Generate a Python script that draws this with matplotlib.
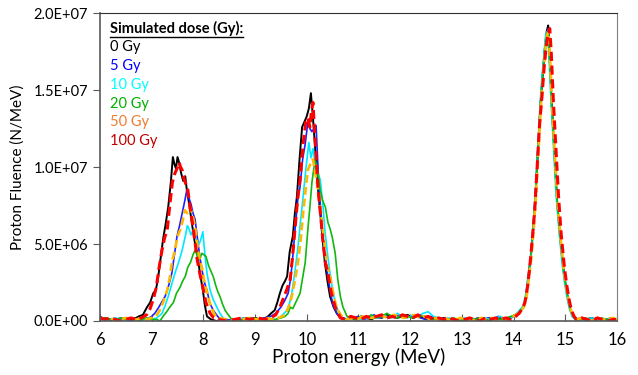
import matplotlib
matplotlib.use("Agg")
from matplotlib import pyplot as plt
from matplotlib.ticker import FuncFormatter, MultipleLocator

plt.rcParams['font.family'] = ['Lato', 'DejaVu Sans']

# fluence values in units of 1e6 N/MeV
e_0gy = [6.0, 6.1, 6.2, 6.3, 6.4, 6.5, 6.6, 6.7, 6.75, 6.83, 6.91, 6.97, 7.03, 7.08, 7.12, 7.17, 7.22, 7.27,
         7.32, 7.37, 7.41, 7.44, 7.47, 7.50, 7.53, 7.57, 7.61, 7.65, 7.68, 7.73, 7.78, 7.83, 7.88, 7.93,
         7.99, 8.03, 8.07, 8.15, 8.25, 8.4, 8.55, 8.7, 8.8, 8.9, 9.0, 9.1, 9.2, 9.25, 9.31, 9.38, 9.43,
         9.48, 9.53, 9.58, 9.62, 9.67, 9.73, 9.77, 9.81, 9.86, 9.91, 9.95, 10.0, 10.04, 10.08, 10.12,
         10.16, 10.19, 10.22, 10.26, 10.29, 10.35, 10.40, 10.45, 10.52, 10.58, 10.65, 10.75, 10.85, 10.95,
         11.05, 11.15, 11.25, 11.35, 11.45, 11.55, 11.65, 11.75, 11.85, 11.95, 12.05, 12.15, 12.25, 12.35,
         12.45, 12.55, 12.65, 12.75, 12.85, 12.95, 13.05, 13.15, 13.25, 13.35, 13.45, 13.55, 13.65, 13.75,
         13.85, 13.95, 14.03, 14.09, 14.14, 14.19, 14.24, 14.28, 14.33, 14.38, 14.42, 14.47, 14.52, 14.56,
         14.60, 14.64, 14.67, 14.70, 14.74, 14.79, 14.84, 14.90, 14.96, 15.01, 15.06, 15.10, 15.15, 15.2,
         15.3, 15.4, 15.5, 15.6, 15.7, 15.8, 15.9, 16.0]
f_0gy = [0.1, 0.2, 0.1, 0.0, 0.1, 0.2, 0.1, 0.2, 0.3, 0.4, 0.9, 1.2, 1.8, 2.0, 2.7, 4.0, 5.3, 6.3,
         7.4, 9.0, 10.65, 10.2, 9.9, 10.65, 10.3, 9.6, 9.1, 9.4, 8.5, 7.5, 6.3, 5.2, 4.4, 3.2,
         2.0, 1.0, 0.3, 0.1, 0.0, 0.1, 0.0, 0.1, 0.2, 0.1, 0.2, 0.1, 0.2, 0.3, 0.5, 0.7, 1.2,
         1.8, 2.3, 2.6, 2.9, 4.5, 5.5, 7.0, 8.1, 10.5, 12.6, 12.9, 13.3, 13.8, 14.8, 13.2,
         11.3, 9.8, 8.5, 7.0, 5.9, 3.8, 2.6, 1.6, 0.9, 0.5, 0.2, 0.1, 0.2, 0.1,
         0.3, 0.2, 0.1, 0.3, 0.2, 0.4, 0.3, 0.2, 0.3, 0.4, 0.2, 0.3, 0.2, 0.1,
         0.2, 0.1, 0.2, 0.1, 0.0, 0.1, 0.1, 0.0, 0.1, 0.2, 0.1, 0.2, 0.1, 0.2,
         0.1, 0.2, 0.4, 0.5, 0.7, 0.9, 1.5, 2.6, 4.0, 6.0, 7.9, 11.0, 14.0, 15.8,
         17.5, 18.8, 19.2, 17.0, 14.0, 11.0, 7.9, 5.5, 3.5, 2.3, 1.3, 0.7, 0.3, 0.1,
         0.0, 0.1, 0.2, 0.1, 0.0, 0.1, 0.2, 0.0]

e_5gy = [6.0, 6.1, 6.2, 6.3, 6.4, 6.5, 6.6, 6.7, 6.8, 6.9, 7.0, 7.06, 7.12, 7.19, 7.26, 7.32, 7.39, 7.44,
         7.49, 7.54, 7.59, 7.64, 7.68, 7.72, 7.76, 7.80, 7.84, 7.88, 7.93, 7.98, 8.03, 8.07, 8.12, 8.19,
         8.3, 8.45, 8.6, 8.75, 8.9, 9.05, 9.2, 9.3, 9.4, 9.5, 9.57, 9.64, 9.69, 9.73, 9.78, 9.83, 9.87,
         9.92, 9.97, 10.02, 10.06, 10.10, 10.14, 10.18, 10.21, 10.24, 10.28, 10.31, 10.35, 10.39, 10.45,
         10.51, 10.6, 10.7, 10.8, 10.9, 11.0, 11.1, 11.2, 11.3, 11.4, 11.5, 11.6, 11.7, 11.8, 11.9, 12.0,
         12.1, 12.2, 12.3, 12.4, 12.5, 12.6, 12.7, 12.8, 12.9, 13.0, 13.1, 13.2, 13.3, 13.4, 13.5, 13.6,
         13.7, 13.8, 13.9, 14.0, 14.07, 14.13, 14.19, 14.24, 14.28, 14.33, 14.38, 14.42, 14.47, 14.52,
         14.56, 14.60, 14.64, 14.67, 14.70, 14.74, 14.79, 14.84, 14.90, 14.96, 15.01, 15.06, 15.10,
         15.15, 15.2, 15.3, 15.4, 15.5, 15.6, 15.7, 15.8, 15.9, 16.0]
f_5gy = [0.3, 0.1, 0.0, 0.1, 0.2, 0.1, 0.0, 0.1, 0.2, 0.1, 0.3, 0.5, 0.8, 1.2, 1.6, 2.2, 3.1, 4.3,
         5.5, 6.2, 7.0, 7.8, 8.5, 8.0, 7.6, 7.0, 6.6, 5.5, 4.2, 3.2, 2.4, 2.0, 1.2, 0.7,
         0.2, 0.1, 0.0, 0.1, 0.2, 0.1, 0.2, 0.3, 0.5, 0.9, 1.3, 1.8, 2.8, 4.2, 6.2, 8.0, 8.7,
         10.5, 11.5, 12.9, 12.5, 12.3, 12.5, 12.7, 10.5, 8.5, 6.8, 5.5, 4.3, 3.3, 2.0,
         1.0, 0.4, 0.2, 0.1, 0.2, 0.3, 0.1, 0.2, 0.4, 0.2, 0.3, 0.2, 0.4, 0.3, 0.2, 0.3,
         0.4, 0.2, 0.1, 0.3, 0.2, 0.1, 0.2, 0.0, 0.1, 0.2, 0.1, 0.0, 0.2, 0.1, 0.2, 0.1,
         0.3, 0.2, 0.1, 0.3, 0.4, 0.6, 0.9, 1.6, 2.8, 4.2, 6.2, 8.0, 11.2, 14.2,
         16.0, 17.6, 18.7, 19.0, 16.8, 13.8, 10.8, 7.8, 5.4, 3.4, 2.2, 1.3, 0.7,
         0.3, 0.1, 0.2, 0.1, 0.0, 0.2, 0.1, 0.0, 0.1, 0.1]

e_10gy = [6.0, 6.1, 6.2, 6.3, 6.4, 6.5, 6.6, 6.7, 6.8, 6.9, 7.0, 7.1, 7.2, 7.26, 7.32, 7.38, 7.45, 7.52,
          7.59, 7.65, 7.69, 7.72, 7.76, 7.80, 7.84, 7.88, 7.92, 7.96, 7.99, 8.03, 8.07, 8.13, 8.19, 8.26,
          8.32, 8.4, 8.5, 8.65, 8.8, 8.95, 9.1, 9.25, 9.4, 9.5, 9.56, 9.62, 9.67, 9.71, 9.77, 9.83, 9.88,
          9.93, 9.98, 10.04, 10.08, 10.12, 10.16, 10.21, 10.26, 10.31, 10.35, 10.40, 10.45, 10.51, 10.58,
          10.65, 10.75, 10.85, 10.95, 11.05, 11.15, 11.25, 11.35, 11.45, 11.55, 11.65, 11.75, 11.85,
          11.95, 12.05, 12.15, 12.25, 12.35, 12.45, 12.55, 12.65, 12.75, 12.85, 12.95, 13.05, 13.15,
          13.25, 13.35, 13.45, 13.55, 13.65, 13.75, 13.85, 13.95, 14.03, 14.09, 14.14, 14.19, 14.24,
          14.28, 14.32, 14.36, 14.40, 14.45, 14.50, 14.54, 14.58, 14.62, 14.65, 14.68, 14.72, 14.77,
          14.82, 14.88, 14.94, 14.99, 15.04, 15.08, 15.13, 15.2, 15.3, 15.4, 15.5, 15.6, 15.7, 15.8,
          15.9, 16.0]
f_10gy = [0.2, 0.0, 0.1, 0.2, 0.1, 0.0, 0.2, 0.1, 0.0, 0.2, 0.1, 0.2, 0.5, 1.0, 1.6, 2.3, 3.1, 3.8,
          4.6, 5.5, 6.2, 6.0, 5.6, 5.9, 5.5, 5.1, 5.0, 5.4, 5.8, 4.3, 3.1, 2.0, 1.4, 0.9,
          0.5, 0.1, 0.0, 0.1, 0.2, 0.1, 0.0, 0.2, 0.1, 0.3, 0.5, 0.7, 1.2, 1.8, 3.2, 4.8, 6.5,
          8.1, 9.8, 11.6, 10.6, 11.2, 10.3, 9.6, 9.2, 7.6, 5.9, 4.4, 3.1, 1.8, 0.9,
          0.2, 0.1, 0.3, 0.2, 0.1, 0.2, 0.3, 0.2, 0.4, 0.3, 0.2, 0.5, 0.3,
          0.2, 0.4, 0.3, 0.5, 0.6, 0.3, 0.2, 0.1, 0.2, 0.0, 0.1, 0.2, 0.1,
          0.0, 0.1, 0.2, 0.1, 0.2, 0.3, 0.1, 0.2, 0.4, 0.6, 0.8, 1.0, 1.8,
          3.0, 3.6, 5.0, 7.2, 10.0, 13.2, 15.5, 17.0, 18.6, 18.8, 17.5, 14.6, 11.5,
          8.3, 5.8, 3.7, 2.4, 1.4, 0.8, 0.3, 0.1, 0.0, 0.1, 0.2, 0.1, 0.0, 0.1,
          0.2, 0.0]

e_20gy = [6.0, 6.1, 6.2, 6.3, 6.4, 6.5, 6.6, 6.7, 6.8, 6.9, 7.0, 7.1, 7.16, 7.22, 7.29, 7.35, 7.42, 7.48,
          7.55, 7.60, 7.65, 7.70, 7.75, 7.80, 7.84, 7.89, 7.93, 7.97, 8.01, 8.05, 8.10, 8.15, 8.19, 8.24,
          8.28, 8.32, 8.37, 8.42, 8.46, 8.55, 8.65, 8.8, 8.95, 9.1, 9.25, 9.4, 9.5, 9.58, 9.64, 9.68, 9.73,
          9.80, 9.87, 9.92, 9.97, 10.02, 10.06, 10.10, 10.16, 10.21, 10.26, 10.31, 10.36, 10.41, 10.45,
          10.49, 10.55, 10.60, 10.65, 10.70, 10.78, 10.85, 10.95, 11.05, 11.15, 11.25, 11.35, 11.45,
          11.55, 11.65, 11.75, 11.85, 11.95, 12.05, 12.15, 12.25, 12.35, 12.45, 12.55, 12.65, 12.75,
          12.85, 12.95, 13.05, 13.15, 13.25, 13.35, 13.45, 13.55, 13.65, 13.75, 13.85, 13.95, 14.03,
          14.09, 14.14, 14.19, 14.24, 14.28, 14.33, 14.38, 14.42, 14.47, 14.52, 14.56, 14.60, 14.64,
          14.67, 14.70, 14.74, 14.79, 14.84, 14.90, 14.96, 15.01, 15.06, 15.10, 15.15, 15.2, 15.3, 15.4,
          15.5, 15.6, 15.7, 15.8, 15.9, 16.0]
f_20gy = [0.1, 0.2, 0.1, 0.0, 0.2, 0.1, 0.2, 0.0, 0.1, 0.2, 0.1, 0.1, 0.0, 0.3, 0.6, 0.9, 1.2, 1.8,
          2.2, 2.6, 2.9, 3.5, 3.8, 4.3, 4.6, 4.2, 4.0, 4.4, 4.3, 4.2, 3.6, 3.2, 2.9, 2.3,
          1.9, 1.6, 1.1, 0.7, 0.5, 0.1, 0.0, 0.1, 0.2, 0.1, 0.0, 0.1, 0.2, 0.3, 0.5, 0.9, 0.8,
          1.3, 1.8, 2.8, 3.8, 5.9, 7.4, 9.0, 10.5, 9.8, 8.5, 7.8, 7.4, 6.4, 6.0,
          5.5, 4.4, 2.7, 1.6, 0.9, 0.3, 0.2, 0.1, 0.3, 0.2, 0.4, 0.2, 0.3,
          0.5, 0.3, 0.2, 0.4, 0.3, 0.2, 0.4, 0.3, 0.2, 0.1, 0.2, 0.0, 0.1,
          0.2, 0.0, 0.1, 0.2, 0.1, 0.2, 0.1, 0.0, 0.2, 0.1, 0.2, 0.3, 0.4,
          0.5, 0.7, 0.9, 1.5, 2.6, 4.0, 6.0, 7.9, 11.0, 14.0, 15.8, 17.4, 18.6,
          18.9, 16.9, 14.0, 11.0, 7.9, 5.5, 3.5, 2.3, 1.3, 0.7, 0.3, 0.1, 0.1, 0.2,
          0.0, 0.1, 0.2, 0.1, 0.0, 0.1]

e_50gy = [6.0, 6.1, 6.2, 6.3, 6.4, 6.5, 6.6, 6.7, 6.8, 6.9, 7.0, 7.08, 7.16, 7.23, 7.30, 7.35, 7.39, 7.45,
          7.50, 7.55, 7.60, 7.64, 7.69, 7.74, 7.79, 7.84, 7.88, 7.93, 7.97, 8.03, 8.09, 8.15, 8.22, 8.3,
          8.45, 8.6, 8.75, 8.9, 9.05, 9.2, 9.35, 9.45, 9.52, 9.58, 9.65, 9.71, 9.77, 9.83, 9.88, 9.93,
          9.98, 10.02, 10.07, 10.12, 10.17, 10.22, 10.27, 10.31, 10.35, 10.39, 10.44, 10.49, 10.55,
          10.60, 10.68, 10.78, 10.88, 10.98, 11.08, 11.18, 11.28, 11.38, 11.48, 11.58, 11.68, 11.78,
          11.88, 11.98, 12.08, 12.18, 12.28, 12.38, 12.48, 12.58, 12.68, 12.78, 12.88, 12.98, 13.08,
          13.18, 13.28, 13.38, 13.48, 13.58, 13.68, 13.78, 13.88, 13.96, 14.04, 14.10, 14.15, 14.20,
          14.25, 14.29, 14.34, 14.39, 14.43, 14.48, 14.53, 14.57, 14.61, 14.65, 14.68, 14.71, 14.75,
          14.80, 14.85, 14.91, 14.97, 15.02, 15.07, 15.11, 15.16, 15.22, 15.32, 15.42, 15.52, 15.62,
          15.72, 15.82, 15.92, 16.0]
f_50gy = [0.2, 0.1, 0.2, 0.0, 0.1, 0.2, 0.1, 0.1, 0.2, 0.1, 0.2, 0.3, 0.7, 1.3, 2.0, 2.8, 3.8, 4.6,
          5.5, 5.9, 6.5, 7.2, 7.0, 7.4, 6.9, 6.1, 5.0, 3.9, 3.5, 2.4, 1.6, 0.9, 0.4, 0.2,
          0.1, 0.0, 0.1, 0.2, 0.1, 0.2, 0.1, 0.2, 0.3, 0.4, 0.9, 1.6, 2.6, 3.8, 5.2, 7.0,
          8.6, 9.8, 10.2, 10.5, 9.5, 8.5, 7.2, 5.9, 4.8, 3.6, 3.1, 2.2, 1.2,
          0.7, 0.3, 0.1, 0.2, 0.1, 0.3, 0.2, 0.2, 0.4, 0.3, 0.2, 0.4, 0.3,
          0.2, 0.3, 0.4, 0.2, 0.3, 0.1, 0.2, 0.1, 0.2, 0.0, 0.1, 0.2, 0.1,
          0.0, 0.1, 0.2, 0.1, 0.2, 0.1, 0.2, 0.1, 0.2, 0.4, 0.5, 0.7, 0.9,
          1.5, 2.6, 4.0, 6.0, 7.9, 11.0, 14.0, 15.8, 17.4, 18.6, 18.8, 16.8, 13.8,
          10.8, 7.8, 5.4, 3.4, 2.2, 1.3, 0.7, 0.3, 0.1, 0.2, 0.1, 0.0, 0.2,
          0.1, 0.1, 0.2, 0.1]

e_100gy = [6.0, 6.1, 6.2, 6.3, 6.4, 6.5, 6.6, 6.7, 6.8, 6.9, 6.97, 7.03, 7.09, 7.14, 7.20, 7.25, 7.30,
           7.35, 7.40, 7.45, 7.49, 7.53, 7.56, 7.59, 7.63, 7.67, 7.70, 7.75, 7.80, 7.84, 7.88, 7.93, 7.99,
           8.05, 8.13, 8.2, 8.3, 8.45, 8.6, 8.75, 8.9, 9.05, 9.2, 9.3, 9.4, 9.48, 9.54, 9.61, 9.68, 9.72,
           9.77, 9.82, 9.87, 9.93, 9.98, 10.02, 10.06, 10.09, 10.12, 10.15, 10.19, 10.22, 10.27, 10.31,
           10.36, 10.41, 10.47, 10.55, 10.65, 10.75, 10.85, 10.95, 11.05, 11.15, 11.25, 11.35, 11.45,
           11.55, 11.65, 11.75, 11.85, 11.95, 12.05, 12.15, 12.25, 12.35, 12.45, 12.55, 12.65, 12.75,
           12.85, 12.95, 13.05, 13.15, 13.25, 13.35, 13.45, 13.55, 13.65, 13.75, 13.85, 13.95, 14.04,
           14.11, 14.17, 14.22, 14.27, 14.31, 14.36, 14.41, 14.45, 14.50, 14.55, 14.59, 14.63, 14.67,
           14.70, 14.73, 14.77, 14.82, 14.87, 14.92, 14.98, 15.03, 15.08, 15.12, 15.17, 15.22, 15.32,
           15.42, 15.52, 15.62, 15.72, 15.82, 15.92, 16.0]
f_100gy = [0.2, 0.1, 0.2, 0.1, 0.0, 0.1, 0.2, 0.1, 0.2, 0.4, 0.8, 1.4, 2.2, 3.4, 4.6, 5.4, 5.9,
           7.5, 9.0, 9.6, 9.9, 10.3, 10.0, 9.8, 9.2, 8.8, 8.5, 7.2, 6.1, 5.1, 4.0, 3.1, 2.2,
           1.2, 0.5, 0.2, 0.1, 0.0, 0.1, 0.2, 0.1, 0.2, 0.1, 0.2, 0.4, 0.9, 1.4, 2.0, 2.7, 4.0,
           5.9, 7.8, 9.2, 11.5, 12.9, 13.2, 12.6, 13.6, 14.2, 12.4, 10.2, 8.5, 6.8, 5.3,
           3.8, 3.1, 1.9, 0.9, 0.2, 0.1, 0.3, 0.2, 0.1, 0.3, 0.2, 0.3, 0.4,
           0.2, 0.3, 0.2, 0.4, 0.3, 0.2, 0.4, 0.2, 0.3, 0.1, 0.2, 0.1, 0.2,
           0.1, 0.0, 0.1, 0.2, 0.1, 0.0, 0.2, 0.1, 0.2, 0.1, 0.2, 0.1, 0.3,
           0.5, 0.8, 1.2, 2.2, 3.4, 5.2, 7.2, 9.6, 12.6, 14.6, 16.4, 17.8, 18.7,
           19.0, 17.4, 14.3, 11.2, 8.1, 5.7, 3.6, 2.3, 1.3, 0.7, 0.3, 0.1, 0.2,
           0.1, 0.0, 0.2, 0.1, 0.0, 0.1, 0.1]

doses = ['0 Gy', '5 Gy', '10 Gy', '20 Gy', '50 Gy', '100 Gy']
energies = [e_0gy, e_5gy, e_10gy, e_20gy, e_50gy, e_100gy]
fluences = [f_0gy, f_5gy, f_10gy, f_20gy, f_50gy, f_100gy]

line_colors = ['#000000', '#2020FF', '#00E8FF', '#10B810', '#FFB800', '#FF0000']
line_styles = ['-', '-', '-', '-', (0, (3, 1.5)), (0, (3, 1.5))]
line_widths = [1.4, 1.2, 1.2, 1.2, 1.9, 2.2]
text_colors = ['#000000', '#0000FF', '#00FFFF', '#00B000', '#ED7D31', '#C00000']

fig = plt.figure(figsize=(6.38, 3.75), dpi=100)
ax = fig.add_axes([0.1567, 0.144, 0.8103, 0.821])

for e, f, c, ls, lw in zip(energies, fluences, line_colors, line_styles, line_widths):
    ax.plot(e, [v * 1e6 for v in f], color=c, linestyle=ls, linewidth=lw)

ax.set_xlim(6, 16)
ax.set_ylim(0, 2.0e7)
ax.xaxis.set_major_locator(MultipleLocator(1))
ax.yaxis.set_major_locator(MultipleLocator(5e6))
ax.yaxis.set_major_formatter(FuncFormatter(lambda v, p: f"{v:.1E}"))
ax.tick_params(axis='x', direction='in', length=5, labelsize=12, pad=8, color='#595959')
ax.tick_params(axis='y', direction='out', length=5, labelsize=10.5, color='#595959')
for side in ['left', 'bottom']:
    ax.spines[side].set_color('#595959')
    ax.spines[side].set_linewidth(1.2)
ax.spines['top'].set_color('#303030')
ax.spines['right'].set_color('#808080')

ax.set_xlabel("Proton energy (MeV)", fontsize=13.5, labelpad=0)
ax.set_ylabel("Proton Fluence (N/MeV)", fontsize=11, labelpad=6)

# dose key written as coloured text inside the plot
title = ax.text(0.019, 0.951, "Simulated dose (Gy):", transform=ax.transAxes,
                fontsize=10.5, fontweight='bold', va='center', ha='left')
ys = [0.890, 0.828, 0.766, 0.705, 0.646, 0.584]
for label, c, y in zip(doses, text_colors, ys):
    ax.text(0.019, y, label, transform=ax.transAxes, fontsize=10.5, color=c,
            va='center', ha='left')

fig.canvas.draw()
bb = title.get_window_extent().transformed(ax.transAxes.inverted())
ax.plot([bb.x0, bb.x1], [bb.y0 - 0.004, bb.y0 - 0.004], color='black', lw=1.0,
        transform=ax.transAxes, clip_on=False)

fig.savefig("out.png", dpi=100)
